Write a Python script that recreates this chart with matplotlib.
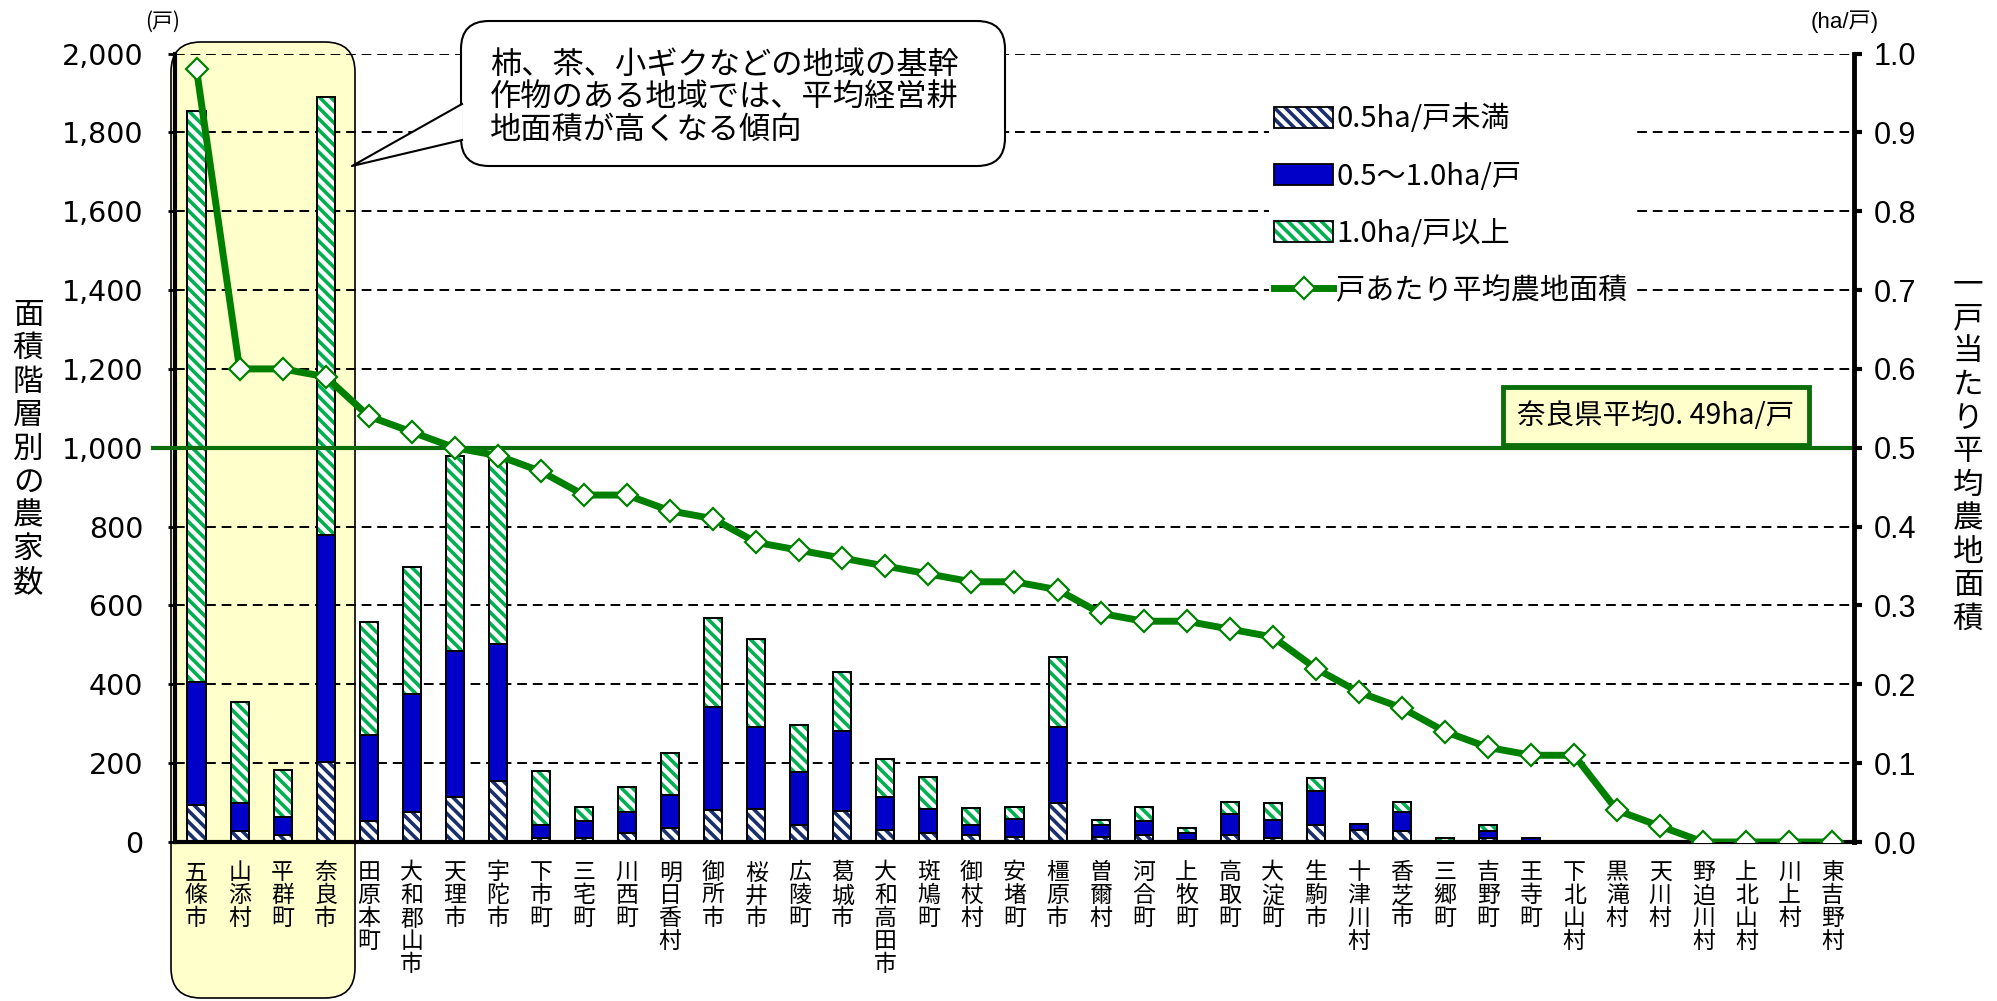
import matplotlib
matplotlib.use("Agg")
import matplotlib.pyplot as plt
from matplotlib.patches import FancyBboxPatch, Polygon, Patch
from matplotlib.lines import Line2D
from matplotlib.legend_handler import HandlerTuple
import matplotlib.transforms as mtransforms

plt.rcParams['font.family'] = ['Liberation Sans', 'Noto Sans CJK JP']
plt.rcParams['hatch.linewidth'] = 2.6

JP = ['Noto Sans CJK JP', 'DejaVu Sans']

# ---- data ----
towns = ['五條市', '山添村', '平群町', '奈良市', '田原本町', '大和郡山市', '天理市', '宇陀市',
         '下市町', '三宅町', '川西町', '明日香村', '御所市', '桜井市', '広陵町', '葛城市',
         '大和高田市', '斑鳩町', '御杖村', '安堵町', '橿原市', '曽爾村', '河合町', '上牧町',
         '高取町', '大淀町', '生駒市', '十津川村', '香芝市', '三郷町', '吉野町', '王寺町',
         '下北山村', '黒滝村', '天川村', '野迫川村', '上北山村', '川上村', '東吉野村']

# farms by size class (戸)
under_05 = [93, 28, 18, 204, 52, 76, 113, 155, 10, 11, 22, 35, 82, 84, 44, 78,
            31, 24, 18, 12, 100, 13, 18, 6, 19, 9, 44, 31, 27, 1, 11, 2,
            0, 0, 0, 0, 0, 0, 0]
mid_05_10 = [313, 72, 45, 575, 220, 299, 372, 347, 34, 41, 55, 84, 261, 207, 134, 204,
             84, 60, 24, 47, 192, 31, 34, 16, 52, 46, 85, 14, 50, 1, 17, 8,
             0, 0, 0, 0, 0, 0, 0]
over_10 = [1449, 256, 119, 1111, 286, 322, 495, 478, 137, 36, 63, 107, 224, 224, 118, 148,
           95, 80, 45, 29, 176, 12, 37, 14, 30, 45, 34, 0, 25, 7, 14, 1,
           0, 0, 0, 0, 0, 0, 0]

# average farmland per farm (ha/戸)
avg_area = [0.98, 0.60, 0.60, 0.59, 0.54, 0.52, 0.50, 0.49, 0.47, 0.44, 0.44, 0.42, 0.41,
            0.38, 0.37, 0.36, 0.35, 0.34, 0.33, 0.33, 0.32, 0.29, 0.28, 0.28, 0.27, 0.26,
            0.22, 0.19, 0.17, 0.14, 0.12, 0.11, 0.11, 0.04, 0.02, 0.0, 0.0, 0.0, 0.0]

avg_line_left = 1000  # prefectural average drawn at 0.5 ha/戸 on the right scale
left_ticks = [0, 200, 400, 600, 800, 1000, 1200, 1400, 1600, 1800, 2000]
right_ticks = [0.0, 0.1, 0.2, 0.3, 0.4, 0.5, 0.6, 0.7, 0.8, 0.9, 1.0]

W, H = 1997, 1001
fig = plt.figure(figsize=(W / 100, H / 100), dpi=100)
fig.patch.set_facecolor('white')


def fx(px):
    return px / W


def fy(py):
    return 1 - py / H


ax = fig.add_axes([fx(175), fy(842), fx(1854) - fx(175), fy(53.5) - fy(842)])
ax.patch.set_visible(False)
ax2 = ax.twinx()
ax2.patch.set_visible(False)

x = list(range(len(towns)))
bw = 0.42
blue = '#0000C8'
green = '#00B050'
navy = '#1A2F6E'
lgreen = '#008000'

bottom2 = [a + b for a, b in zip(under_05, mid_05_10)]

# hatched layers (hatch colour comes from edgecolor) + black outlines on top
ax.bar(x, under_05, bw, color='white', edgecolor=navy, hatch='\\\\\\', linewidth=0, zorder=2)
ax.bar(x, under_05, bw, fill=False, edgecolor='black', linewidth=1.4, zorder=3)
ax.bar(x, mid_05_10, bw, bottom=under_05, color=blue, edgecolor='black', linewidth=1.4, zorder=3)
ax.bar(x, over_10, bw, bottom=bottom2, color='white', edgecolor=green, hatch='\\\\\\', linewidth=0, zorder=2)
ax.bar(x, over_10, bw, bottom=bottom2, fill=False, edgecolor='black', linewidth=1.4, zorder=3)

ax.set_xlim(-0.5, len(towns) - 0.5)
ax.set_ylim(0, 2000)
ax.set_yticks(left_ticks)
ax.set_yticklabels([f'{v:,}' for v in left_ticks], family='DejaVu Sans', fontsize=20.5)
ax.grid(axis='y', color='black', linestyle=(0, (5, 3)), linewidth=1.4, zorder=1)
ax.set_axisbelow(True)
ax.set_xticks(x)
ax.set_xticklabels(['\n'.join(t) for t in towns], family=JP, fontsize=16.5,
                   va='top', linespacing=1.0)
ax.tick_params(axis='x', length=0, pad=14)
ax.tick_params(axis='y', direction='out', length=5, width=2, pad=18)

for s in ['left', 'bottom']:
    ax.spines[s].set_linewidth(3)
ax.spines['top'].set_visible(False)
ax.spines['right'].set_visible(False)

# prefectural average line
tr = mtransforms.blended_transform_factory(ax.transAxes, ax.transData)
ax.plot([-0.013, 1.0], [avg_line_left, avg_line_left], transform=tr, color='#0B6E0B',
        linewidth=3, clip_on=False, zorder=4)

ax2.set_ylim(0, 1.0)
ax2.set_yticks(right_ticks)
ax2.set_yticklabels([f'{v:.1f}' for v in right_ticks], fontsize=22)
ax2.tick_params(axis='y', direction='out', length=6, width=3, pad=8)
ax2.spines['right'].set_linewidth(3.5)
for s in ['left', 'top', 'bottom']:
    ax2.spines[s].set_visible(False)

ax2.plot(x, avg_area, color=lgreen, linewidth=5, marker='D', markersize=11,
         markerfacecolor='white', markeredgecolor=lgreen, markeredgewidth=1.6, zorder=5)

# legend
h_small = (Patch(facecolor='white', edgecolor=navy, hatch='\\\\\\', linewidth=0),
           Patch(fill=False, edgecolor='black', linewidth=1.3))
h_mid = Patch(facecolor=blue, edgecolor='black', linewidth=1.3)
h_big = (Patch(facecolor='white', edgecolor=green, hatch='\\\\\\', linewidth=0),
         Patch(fill=False, edgecolor='black', linewidth=1.3))
h_line = Line2D([], [], color=lgreen, linewidth=5, marker='D', markersize=11,
                markerfacecolor='white', markeredgecolor=lgreen, markeredgewidth=1.6)
leg = fig.legend([h_small, h_mid, h_big, h_line],
                 ['0.5ha/戸未満', '0.5～1.0ha/戸', '1.0ha/戸以上', '戸あたり平均農地面積'],
                 handler_map={tuple: HandlerTuple(ndivide=1)},
                 loc='upper left', bbox_to_anchor=(fx(1254), fy(84)),
                 prop={'family': JP, 'size': 21}, frameon=True, facecolor='white',
                 edgecolor='none', framealpha=1, handlelength=2.0, handleheight=0.72,
                 handletextpad=0.12, labelspacing=0.93, borderpad=0.2, numpoints=1)
leg.set_zorder(6)

# yellow highlight box behind the first four towns
din = fig.dpi_scale_trans
hl = FancyBboxPatch((171 / 100, (H - 998) / 100), (355 - 171) / 100, (998 - 42) / 100,
                    boxstyle='round,pad=0,rounding_size=0.3', facecolor='#FFFFCC',
                    edgecolor='black', linewidth=1.2, transform=din, zorder=-1)
fig.patches.append(hl)

# callout
cb = FancyBboxPatch((461 / 100, (H - 166) / 100), (1005 - 461) / 100, (166 - 21) / 100,
                    boxstyle='round,pad=0,rounding_size=0.28', facecolor='white',
                    edgecolor='black', linewidth=1.5, transform=din, zorder=7)
fig.patches.append(cb)
tri = [(462 / 100, (H - 104) / 100), (352 / 100, (H - 166) / 100), (462 / 100, (H - 140) / 100)]
fig.patches.append(Polygon(tri, closed=False, facecolor='white', edgecolor='none',
                           transform=din, zorder=7.5))
fig.lines.append(Line2D([t[0] for t in tri], [t[1] for t in tri], color='black',
                        linewidth=1.5, transform=din, zorder=7.6))
fig.text(fx(490), fy(97), '柿、茶、小ギクなどの地域の基幹\n作物のある地域では、平均経営耕\n地面積が高くなる傾向',
         family=JP, fontsize=22.5, va='center', ha='left', linespacing=1.02, zorder=8)

# prefecture average label box
fig.text(fx(1656), fy(416), '奈良県平均0. 49ha/戸', family=JP, fontsize=20.5,
         ha='center', va='center', zorder=8,
         bbox=dict(boxstyle='square,pad=0.5', facecolor='#FFFFCC', edgecolor='#0B6E0B',
                   linewidth=3.5))

# axis titles and units
fig.text(fx(28), fy(449), '\n'.join('面積階層別の農家数'), family=JP, fontsize=22,
         ha='center', va='center', linespacing=1.1)
fig.text(fx(1968), fy(452), '\n'.join('一戸当たり平均農地面積'), family=JP, fontsize=22,
         ha='center', va='center', linespacing=1.1)
fig.text(fx(163), fy(22), '(戸)', family=JP, fontsize=15, ha='center', va='center')
fig.text(fx(1845), fy(22), '(ha/戸)', fontsize=16, ha='center', va='center')

fig.savefig('out.png', dpi=100)
